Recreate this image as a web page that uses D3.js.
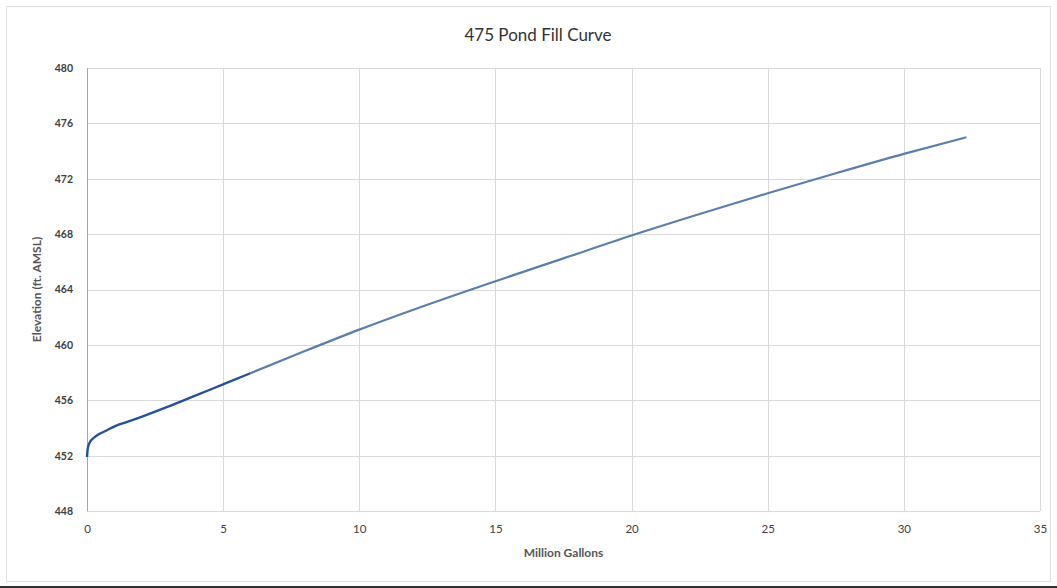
<!DOCTYPE html>
<html>
<head>
<meta charset="utf-8">
<script src="https://cdn.jsdelivr.net/npm/d3@7"></script>
<style>
  html, body { margin: 0; padding: 0; background: #fff; }
  svg { display: block; }
</style>
</head>
<body>
<div id="chart"></div>
<script>
// Données (millions de gallons, élévation ft AMSL)
const gallonsLow   = [0, 0.02, 0.05, 0.1, 0.2, 0.4, 0.7, 1.0, 1.5, 2.0, 3.0, 4.0, 5.0, 6.0];
const elevLow      = [451.9, 452.4, 452.7, 452.95, 453.2, 453.5, 453.8, 454.1, 454.45, 454.8, 455.55, 456.35, 457.15, 457.95];
const gallonsHigh  = [6.0, 8.0, 10.0, 12.5, 15.0, 17.5, 20.0, 22.5, 25.0, 27.5, 30.0, 32.3];
const elevHigh     = [457.95, 459.55, 461.1, 462.9, 464.6, 466.25, 467.9, 469.45, 470.95, 472.4, 473.8, 475.0];
const xTicks       = [0, 5, 10, 15, 20, 25, 30, 35];
const yTicks       = [448, 452, 456, 460, 464, 468, 472, 476, 480];

const W = 1057, H = 588;
const margin = { top: 68, right: 17, bottom: 77, left: 87 };
const innerW = W - margin.left - margin.right;
const innerH = H - margin.top - margin.bottom;
const font = 'Lato, "Open Sans", sans-serif';

const svg = d3.select('#chart').append('svg')
    .attr('width', W)
    .attr('height', H)
    .style('font-family', font);

// Cadre du graphique
svg.append('rect')
    .attr('x', 6.5).attr('y', 6.5)
    .attr('width', W - 13).attr('height', H - 13)
    .attr('fill', '#fff')
    .attr('stroke', '#e2e2e2');
svg.append('line')
    .attr('x1', 0).attr('x2', W)
    .attr('y1', H - 1).attr('y2', H - 1)
    .attr('stroke', '#333').attr('stroke-width', 2);

const g = svg.append('g')
    .attr('transform', `translate(${margin.left},${margin.top})`);

const x = d3.scaleLinear().domain([0, 35]).range([0, innerW]);
const y = d3.scaleLinear().domain([448, 480]).range([innerH, 0]);

// ── Grille ───────────────────────────────────────────────────────────────
g.append('g')
    .selectAll('line')
    .data(yTicks)
    .join('line')
    .attr('x1', 0).attr('x2', innerW)
    .attr('y1', d => Math.round(y(d)) + 0.5)
    .attr('y2', d => Math.round(y(d)) + 0.5)
    .attr('stroke', '#d9d9d9');

g.append('g')
    .selectAll('line')
    .data(xTicks)
    .join('line')
    .attr('x1', d => Math.round(x(d)) + 0.5)
    .attr('x2', d => Math.round(x(d)) + 0.5)
    .attr('y1', 0).attr('y2', innerH)
    .attr('stroke', d => d === 0 ? '#a6a6a6' : '#d9d9d9');

// ── Axes ─────────────────────────────────────────────────────────────────
const xAxis = g.append('g')
    .attr('transform', `translate(0,${innerH})`)
    .call(d3.axisBottom(x).tickValues(xTicks).tickSize(0).tickPadding(14));
const yAxis = g.append('g')
    .call(d3.axisLeft(y).tickValues(yTicks).tickSize(0).tickPadding(14));

[xAxis, yAxis].forEach(a => {
    a.select('.domain').remove();
    a.selectAll('text')
        .attr('font-family', font)
        .attr('font-size', '11.5px')
        .attr('fill', '#404040');
});
yAxis.selectAll('text').attr('font-weight', 'bold').attr('font-size', '10.5px');

// ── Courbe ───────────────────────────────────────────────────────────────
const line = d3.line()
    .x(d => x(d[0]))
    .y(d => y(d[1]))
    .curve(d3.curveMonotoneX);

g.append('path')
    .datum(d3.zip(gallonsHigh, elevHigh))
    .attr('fill', 'none')
    .attr('stroke', '#5a7fae')
    .attr('stroke-width', 2.2)
    .attr('d', line);

g.append('path')
    .datum(d3.zip(gallonsLow, elevLow))
    .attr('fill', 'none')
    .attr('stroke', '#23519c')
    .attr('stroke-width', 2.4)
    .attr('d', line);

// ── Titres ───────────────────────────────────────────────────────────────
svg.append('text')
    .attr('x', 538).attr('y', 41)
    .attr('text-anchor', 'middle')
    .attr('font-size', '17px')
    .attr('fill', '#333')
    .text('475 Pond Fill Curve');

svg.append('text')
    .attr('x', margin.left + innerW / 2).attr('y', 557)
    .attr('text-anchor', 'middle')
    .attr('font-size', '12px')
    .attr('font-weight', 'bold')
    .attr('fill', '#555')
    .text('Million Gallons');

svg.append('text')
    .attr('transform', `translate(41,${margin.top + innerH / 2}) rotate(-90)`)
    .attr('text-anchor', 'middle')
    .attr('font-size', '12px')
    .attr('font-weight', 'bold')
    .attr('fill', '#555')
    .text('Elevation (ft. AMSL)');
</script>
</body>
</html>
